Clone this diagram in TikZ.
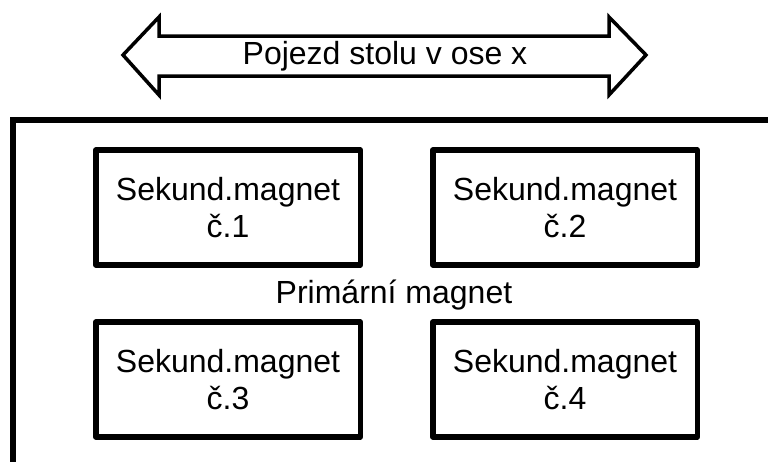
\documentclass[tikz,border=0pt]{standalone}
\usepackage{fontspec}
\setmainfont{Liberation Sans}
\begin{document}
\begin{tikzpicture}[x=1pt,y=-1pt,
  magbox/.style={draw=black,line width=5.5pt,line join=round,minimum width=264.5pt,minimum height=115pt,inner sep=0pt,align=center,font=\fontsize{32}{37}\selectfont},
  lbl/.style={font=\fontsize{32}{37}\selectfont,inner sep=0pt}]
\useasboundingbox (0,0) rectangle (768,461);
\clip (0,0) rectangle (768,461);
\fill[white] (0,0) rectangle (768,461);
% primary magnet frame
\draw[line width=6pt] (13,520) -- (13,120) -- (800,120);
% travel arrow
\draw[line width=3.5pt,line join=miter]
  (123,55) -- (159,17) -- (159,36) -- (609,36) -- (609,17) -- (646,55)
  -- (609,95) -- (609,76) -- (159,76) -- (159,95) -- cycle;
\node[lbl] (pojezd) at (385,56) {Pojezd stolu v ose x};
\node[magbox] (m1) at (228,207.5) {Sekund.magnet\\č.1};
\node[magbox] (m2) at (565,207.5) {Sekund.magnet\\č.2};
\node[magbox] (m3) at (228,379.5) {Sekund.magnet\\č.3};
\node[magbox] (m4) at (565,379.5) {Sekund.magnet\\č.4};
\node[lbl] (prim) at (394,295) {Primární magnet};
\end{tikzpicture}
\end{document}
